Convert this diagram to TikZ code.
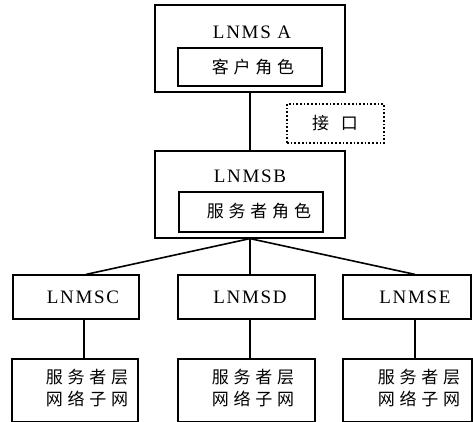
\documentclass[tikz,border=0pt]{standalone}
\usepackage{fontspec}
\setmainfont{Liberation Serif}
\newfontfamily\cjk[LetterSpace=28]{Noto Sans CJK SC}
\newfontfamily\latn[LetterSpace=9]{Liberation Serif}
\begin{document}
\begin{tikzpicture}[x=1pt,y=-1pt,
  box/.style={draw,line width=1.2pt,minimum width=#1,inner sep=0pt},
  lab/.style={font=\latn\fontsize{19}{19}\selectfont,inner sep=0pt},
  ch/.style={font=\cjk\fontsize{17}{17}\selectfont,inner sep=0pt,align=center},
  conn/.style={line width=1.6pt}]
\useasboundingbox (0,0) rectangle (473,422);
% top
\node[box=190pt,minimum height=87pt] (A) at (250,48.5) {};
\node[lab] (Al) at (252,32) {LNMS A};
\node[box=144pt,minimum height=38pt,line width=1.7pt] (Ai) at (250,67) {};
\node[ch] at (253,67) {客户角色};
% B
\node[box=190pt,minimum height=87pt] (B) at (250,194.5) {};
\node[lab] (Bl) at (250,176) {LNMSB};
\node[box=144pt,minimum height=40pt,line width=1.7pt] (Bi) at (251,212) {};
\node[ch] at (259,211) {服务者角色};
% interface
\node[draw,dotted,line width=1.7pt,minimum width=97pt,minimum height=39pt] (I) at (335.5,123.5) {};
\node[ch] at (335,123) {接\hspace{12pt}口};
% middle row
\node[box=126pt,minimum height=44pt] (C) at (76,297) {};
\node[lab] at (83,297) {LNMSC};
\node[box=137pt,minimum height=44pt] (D) at (246.5,297) {};
\node[lab] at (250,297) {LNMSD};
\node[box=128pt,minimum height=44pt] (E) at (407,297) {};
\node[lab] at (415,297) {LNMSE};
% bottom row
\node[box=126pt,minimum height=63pt] (C2) at (75,390.5) {};
\node[ch] at (87,388) {服务者层\\[5pt]网络子网};
\node[box=137pt,minimum height=63pt] (D2) at (246.5,390.5) {};
\node[ch] at (253,388) {服务者层\\[5pt]网络子网};
\node[box=129pt,minimum height=63pt] (E2) at (407.5,390.5) {};
\node[ch] at (419,388) {服务者层\\[5pt]网络子网};
% connectors
\draw[conn] (A.south) -- (B.north);
\draw[conn] (B.south) -- ([xshift=10pt]C.north);
\draw[conn] (B.south) -- ([xshift=3.5pt]D.north);
\draw[conn] (B.south) -- ([xshift=8pt]E.north);
\draw[conn] ([xshift=8pt]C.south) -- ([xshift=8pt]C.south |- C2.north);
\draw[conn] ([xshift=3.5pt]D.south) -- ([xshift=3.5pt]D.south |- D2.north);
\draw[conn] ([xshift=8pt]E.south) -- ([xshift=8pt]E.south |- E2.north);
\end{tikzpicture}
\end{document}
